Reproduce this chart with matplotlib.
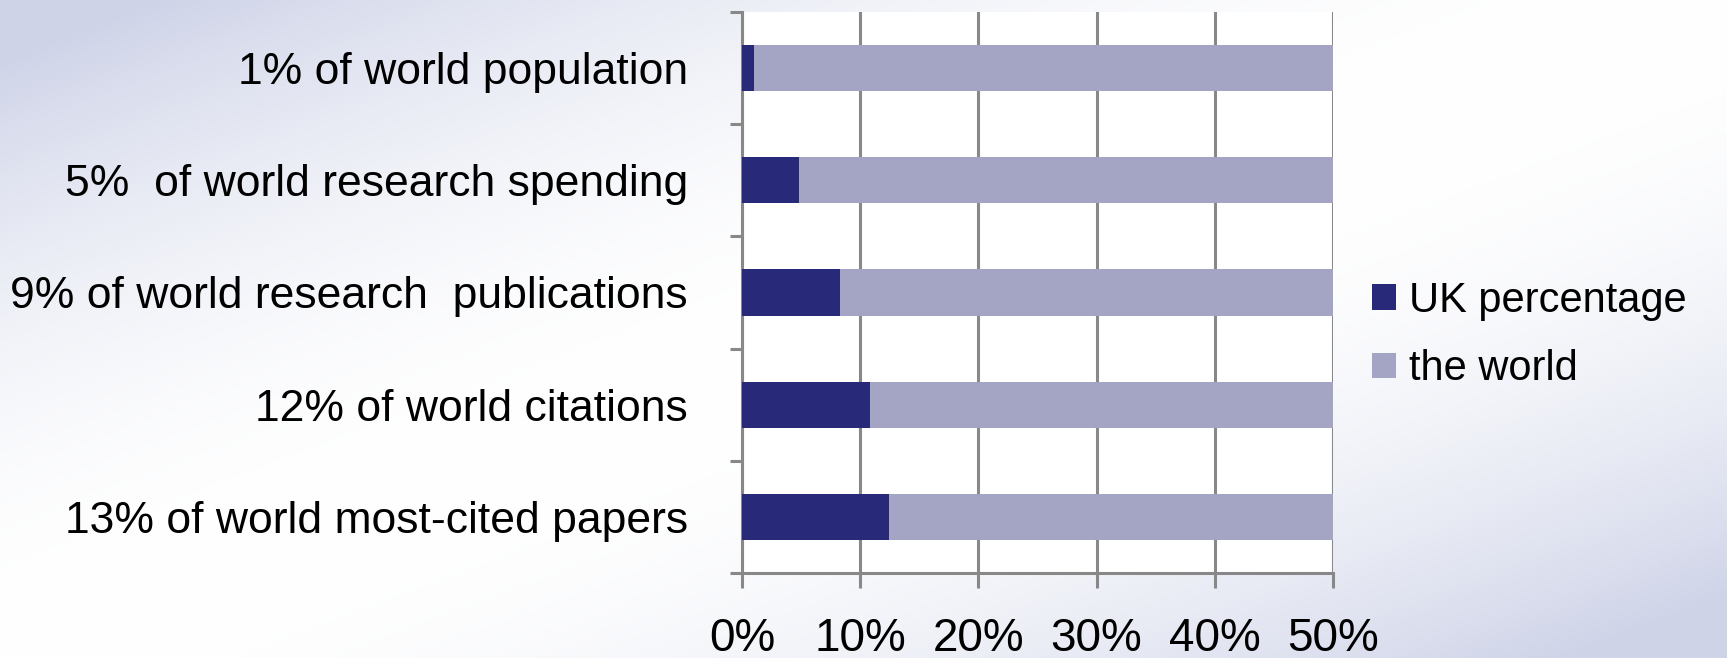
import numpy as np
import matplotlib
matplotlib.use("Agg")
import matplotlib.pyplot as plt
from matplotlib.patches import Patch

plt.rcParams['font.family'] = ['Liberation Sans', 'DejaVu Sans']

# data
categories = ["1% of world population",
              "5%  of world research spending",
              "9% of world research  publications",
              "12% of world citations",
              "13% of world most-cited papers"]
uk_share = [1.0, 4.8, 8.3, 10.8, 12.4]
world_share = [100 - v for v in uk_share]
x_ticks = [0, 10, 20, 30, 40, 50]
x_labels = ["0%", "10%", "20%", "30%", "40%", "50%"]
series_names = ["UK percentage", "the world"]

dark = "#29297a"
light = "#a4a5c4"
grey = "#888888"

W, H = 1727, 658
fig = plt.figure(figsize=(W / 100, H / 100), dpi=100)

# slide-like background gradient: lavender corners, white diagonal
bg = fig.add_axes([0, 0, 1, 1], zorder=-10)
u, v = np.meshgrid(np.linspace(0, 1, 400), np.linspace(0, 1, 160))
t = np.clip(np.abs(u + v - 1.0) * 1.1, 0, 1) ** 2
c0 = np.array([1.0, 1.0, 1.0])
c1 = np.array([0.81, 0.83, 0.91])
img = c0 + (c1 - c0) * t[..., None]
bg.imshow(img, aspect='auto', extent=[0, 1, 0, 1], origin='upper')
bg.axis('off')

ax = fig.add_axes([742 / W, 1 - 573 / H, (1333 - 742) / W, (573 - 12) / H])
ax.set_facecolor("white")

y = np.arange(len(categories))
ax.barh(y, uk_share, height=0.41, color=dark, zorder=3, label=series_names[0])
ax.barh(y, world_share, left=uk_share, height=0.41, color=light, zorder=3,
        label=series_names[1])

ax.set_xlim(0, 50)
ax.set_ylim(len(categories) - 0.5, -0.5)

ax.set_xticks(x_ticks)
ax.set_xticklabels(x_labels, fontsize=33)
ax.tick_params(axis='x', length=11, width=2.2, color=grey, pad=21)

ax.set_yticks(y)
ax.set_yticklabels(categories, fontsize=32)
ax.set_yticks(np.arange(len(categories) + 1) - 0.5, minor=True)
ax.tick_params(axis='y', which='major', length=0, pad=39)
ax.tick_params(axis='y', which='minor', length=9, width=2.2, color=grey)

ax.grid(axis='x', color=grey, linewidth=2.2, zorder=0)
ax.set_axisbelow(True)
for s in ['top', 'right']:
    ax.spines[s].set_visible(False)
for s in ['left', 'bottom']:
    ax.spines[s].set_color(grey)
    ax.spines[s].set_linewidth(2.2)

handles = [Patch(facecolor=dark), Patch(facecolor=light)]
fig.legend(handles, series_names, loc='center left',
           bbox_to_anchor=(1372 / W, 1 - 335 / H), frameon=False,
           fontsize=30, handlelength=0.58, handleheight=0.58,
           handletextpad=0.3, labelspacing=0.68, borderpad=0, borderaxespad=0)

plt.savefig("out.png", dpi=100)
